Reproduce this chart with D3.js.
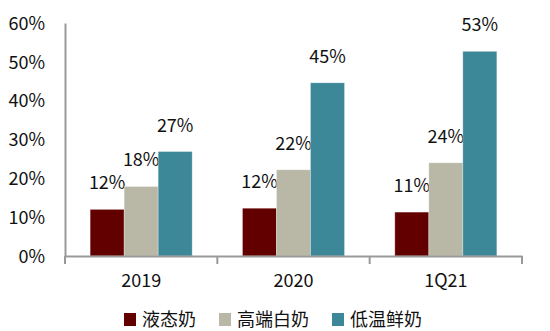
<!DOCTYPE html>
<html><head><meta charset="utf-8">
<script src="https://cdn.jsdelivr.net/npm/d3@7"></script>
<style>body{margin:0;background:#fff}svg{display:block}text{font-family:"Noto Sans CJK SC","Noto Sans",sans-serif;fill:#111}</style>
</head><body><svg id="c" width="550" height="331"></svg>
<script>
const categories = ["2019", "2020", "1Q21"];
const seriesNames = ["液态奶", "高端白奶", "低温鲜奶"];
const liquidMilk = [12.0, 12.3, 11.3];
const premiumWhite = [17.9, 22.2, 24.0];
const lowTempFresh = [26.9, 44.6, 52.7];
const labelsLiquid = ["12%", "12%", "11%"];
const labelsPremium = ["18%", "22%", "24%"];
const labelsFresh = ["27%", "45%", "53%"];
const yTicks = [0, 10, 20, 30, 40, 50, 60];
const colors = ["#620000", "#B9B8A6", "#3C8899"];

const series = [liquidMilk, premiumWhite, lowTempFresh];
const labels = [labelsLiquid, labelsPremium, labelsFresh];

const svg = d3.select("#c");
const mLeft = 65, mRight = 522, mTop = 23, mBottom = 256;
const x = d3.scaleBand().domain(categories).range([mLeft, mRight]).paddingInner(0).paddingOuter(0);
const inner = d3.scaleBand().domain(d3.range(3)).range([0, x.bandwidth()]).paddingInner(0).paddingOuter(0.74);
const y = d3.scaleLinear().domain([0, 60]).range([mBottom, mTop]);

// bars
series.forEach((vals, si) => {
  svg.append("g").selectAll("rect").data(vals).join("rect")
    .attr("x", (d, i) => x(categories[i]) + inner(si))
    .attr("y", d => y(d))
    .attr("width", inner.bandwidth())
    .attr("height", d => y(0) - y(d))
    .attr("fill", colors[si])
    .attr("stroke", "#fff").attr("stroke-opacity", 0.35).attr("stroke-width", 0.8);
  svg.append("g").selectAll("text").data(vals).join("text")
    .attr("x", (d, i) => x(categories[i]) + inner(si) + inner.bandwidth() / 2)
    .attr("y", d => y(d) - 20)
    .attr("text-anchor", "middle")
    .attr("font-size", 18)
    .text((d, i) => labels[si][i]);
});

// y axis
const yAxis = d3.axisLeft(y).tickValues(yTicks).tickFormat(d => d + "%").tickSize(0).tickPadding(20);
const yg = svg.append("g").attr("transform", `translate(${mLeft},0)`).call(yAxis);
yg.select(".domain").attr("stroke", "#999").attr("stroke-width", 2);
yg.selectAll("text").attr("font-size", 18).attr("dy", "0.35em").style("font-family", '"Noto Sans CJK SC","Noto Sans",sans-serif');

// x axis
const xAxis = d3.axisBottom(x).tickSize(0).tickPadding(18);
const xg = svg.append("g").attr("transform", `translate(0,${mBottom})`).call(xAxis);
xg.select(".domain").attr("stroke", "#999").attr("stroke-width", 2);
xg.selectAll("text").attr("font-size", 18).style("font-family", '"Noto Sans CJK SC","Noto Sans",sans-serif');
// category separator ticks
const bounds = categories.map(c => x(c)).concat([mRight]);
xg.selectAll(".sep").data(bounds).join("line").attr("class", "sep")
  .attr("x1", d => d).attr("x2", d => d).attr("y1", 0).attr("y2", 8)
  .attr("stroke", "#999").attr("stroke-width", 2);

// legend
const legendX = [124, 219, 332];
const lg = svg.append("g");
seriesNames.forEach((n, i) => {
  lg.append("rect").attr("x", legendX[i]).attr("y", 313).attr("width", 12).attr("height", 13).attr("fill", colors[i]);
  lg.append("text").attr("x", legendX[i] + 18).attr("y", 319.5).attr("dy", "0.35em").attr("font-size", 18).text(n);
});
</script></body></html>
